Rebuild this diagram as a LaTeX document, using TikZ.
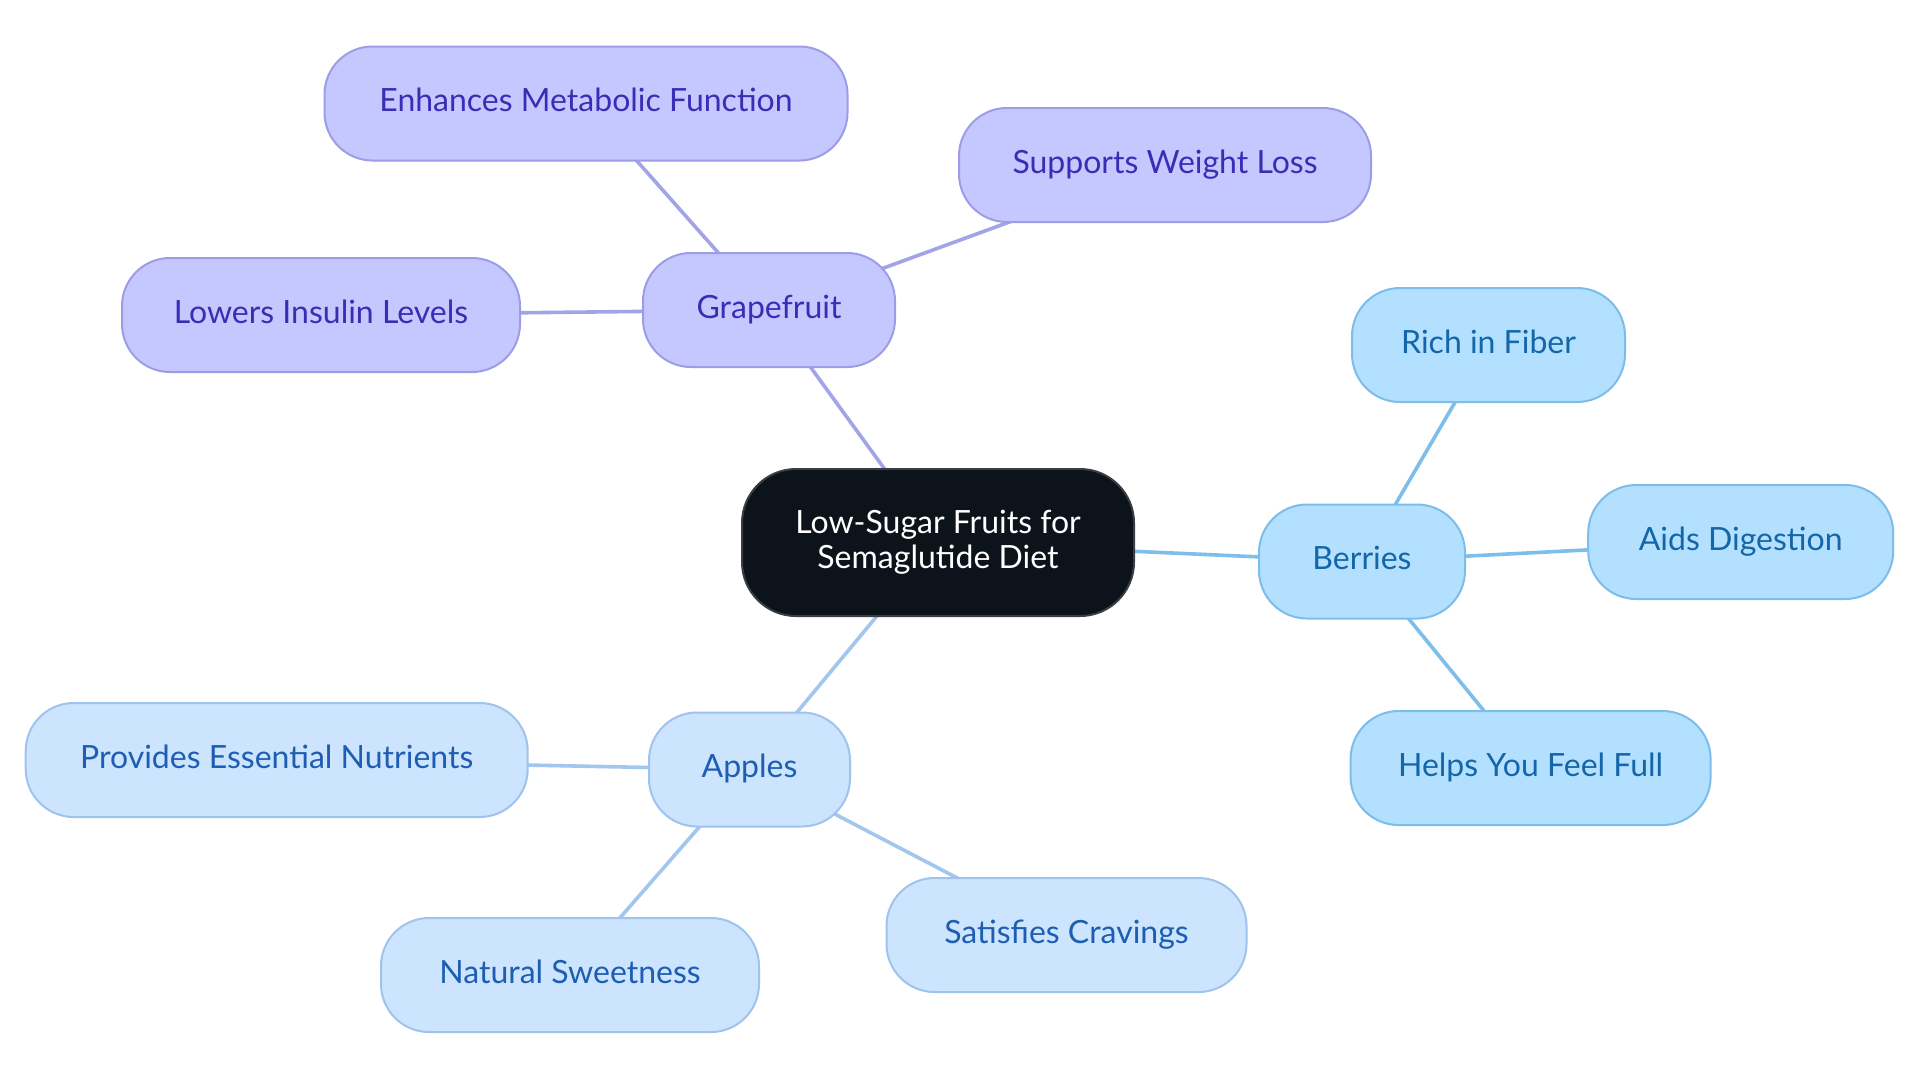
\documentclass[tikz,border=0pt]{standalone}
\usepackage{fontspec}
\setmainfont{Lato}
\usetikzlibrary{backgrounds}
\definecolor{gfill}{HTML}{C5C8FE}
\definecolor{gdraw}{HTML}{9C9DE6}
\definecolor{gtext}{HTML}{3A2DB5}
\definecolor{gline}{HTML}{A3A4E8}
\definecolor{bfill}{HTML}{B3E0FE}
\definecolor{bdraw}{HTML}{7DBDEA}
\definecolor{btext}{HTML}{1466A8}
\definecolor{bline}{HTML}{7DBEEA}
\definecolor{afill}{HTML}{CCE4FD}
\definecolor{adraw}{HTML}{9FC3EC}
\definecolor{atext}{HTML}{1D5EB3}
\definecolor{aline}{HTML}{A3C6EE}
\definecolor{cfill}{HTML}{0C131B}
\definecolor{cdraw}{HTML}{3A3D42}
\tikzset{
  basenode/.style={rectangle, rounded corners=24pt, inner sep=0pt, minimum height=57pt, line width=1pt, font=\fontsize{16}{17.5}\selectfont},
  leafnode/.style={basenode, text height=11.5pt, text depth=3.3pt},
  gnode/.style={leafnode, fill=gfill, draw=gdraw, text=gtext},
  bnode/.style={leafnode, fill=bfill, draw=bdraw, text=btext},
  anode/.style={leafnode, fill=afill, draw=adraw, text=atext},
  cnode/.style={basenode, rounded corners=27pt, minimum height=73.5pt, minimum width=196pt, fill=cfill, draw=cdraw, text=white, align=center},
  gedge/.style={draw=gline, line width=1.8pt},
  bedge/.style={draw=bline, line width=1.8pt},
  aedge/.style={draw=aline, line width=1.8pt}
}
\begin{document}
\begin{tikzpicture}[x=0.5pt, y=-0.5pt]
\useasboundingbox (0,0) rectangle (1920,1083);
\node[cnode] (c) at (938,542.5) {Low-Sugar Fruits for\\Semaglutide Diet};
\node[gnode, minimum width=126pt] (gf) at (769,310) {Grapefruit};
\node[gnode, minimum width=261.5pt] (emf) at (586,103.5) {Enhances Metabolic Function};
\node[gnode, minimum width=206pt] (swl) at (1165,165) {Supports Weight Loss};
\node[gnode, minimum width=199pt] (lil) at (321,315) {Lowers Insulin Levels};
\node[bnode, minimum width=103pt] (ber) at (1362,561.5) {Berries};
\node[bnode, minimum width=136.5pt] (rif) at (1488.5,345) {Rich in Fiber};
\node[bnode, minimum width=152.5pt] (aid) at (1740.7,542) {Aids Digestion};
\node[bnode, minimum width=180pt] (hyf) at (1530.6,768) {Helps You Feel Full};
\node[anode, minimum width=100.5pt] (app) at (749.5,769.5) {Apples};
\node[anode, minimum width=251pt] (pen) at (276.7,760) {Provides Essential Nutrients};
\node[anode, minimum width=189pt] (nsw) at (570,975) {Natural Sweetness};
\node[anode, minimum width=180pt] (sac) at (1066.5,935) {Satisfies Cravings};
\begin{pgfonlayer}{background}
\fill[white] (0,0) rectangle (1920,1083);
\draw[gedge] (c.center) -- (gf.center);
\draw[gedge] (gf.center) -- (emf.center);
\draw[gedge] (gf.center) -- (swl.center);
\draw[gedge] (gf.center) -- (lil.center);
\draw[bedge] (c.center) -- (ber.center);
\draw[bedge] (ber.center) -- (rif.center);
\draw[bedge] (ber.center) -- (aid.center);
\draw[bedge] (ber.center) -- (hyf.center);
\draw[aedge] (c.center) -- (app.center);
\draw[aedge] (app.center) -- (pen.center);
\draw[aedge] (app.center) -- (nsw.center);
\draw[aedge] (app.center) -- (sac.center);
\end{pgfonlayer}
\end{tikzpicture}
\end{document}
